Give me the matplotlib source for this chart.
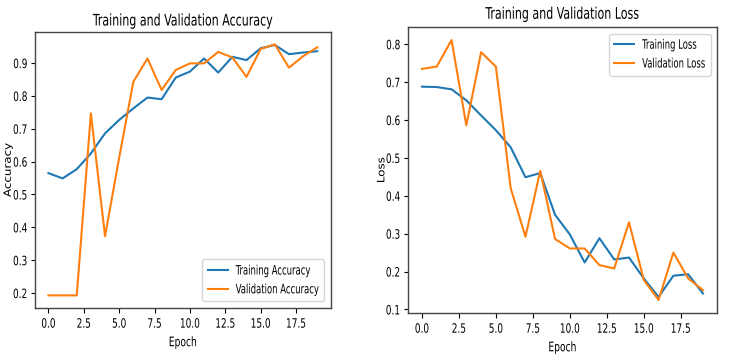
import matplotlib
matplotlib.use("Agg")
import matplotlib.pyplot as plt
from matplotlib.patheffects import AbstractPathEffect
from matplotlib.transforms import Affine2D, Bbox

plt.rcParams['font.family'] = ['DejaVu Sans']
plt.rcParams['font.stretch'] = 'condensed'

epochs = list(range(20))
train_acc = [0.565, 0.549, 0.577, 0.625, 0.686, 0.727, 0.762, 0.795, 0.790, 0.856,
             0.874, 0.914, 0.871, 0.919, 0.909, 0.945, 0.955, 0.927, 0.932, 0.936]
val_acc = [0.193, 0.193, 0.193, 0.747, 0.373, 0.612, 0.843, 0.914, 0.818, 0.879,
           0.899, 0.899, 0.934, 0.917, 0.858, 0.943, 0.957, 0.886, 0.921, 0.948]
train_loss = [0.688, 0.687, 0.681, 0.652, 0.612, 0.573, 0.528, 0.449, 0.460, 0.350,
              0.298, 0.224, 0.288, 0.232, 0.237, 0.182, 0.133, 0.189, 0.193, 0.142]
val_loss = [0.735, 0.741, 0.811, 0.586, 0.779, 0.741, 0.420, 0.292, 0.466, 0.286,
            0.261, 0.261, 0.217, 0.208, 0.330, 0.178, 0.125, 0.250, 0.182, 0.151]
xticks = [0.0, 2.5, 5.0, 7.5, 10.0, 12.5, 15.0, 17.5]
acc_yticks = [0.2, 0.3, 0.4, 0.5, 0.6, 0.7, 0.8, 0.9]
loss_yticks = [0.1, 0.2, 0.3, 0.4, 0.5, 0.6, 0.7, 0.8]

SX = 0.77
SX_LEG = 0.73


class SqueezeX(AbstractPathEffect):
    """Draw text narrower, like the horizontally squeezed reference."""
    def __init__(self, sx=SX, anchor='center'):
        super().__init__()
        self.sx = sx
        self.anchor = anchor

    def draw_path(self, renderer, gc, tpath, affine, rgbFace=None):
        ext = tpath.get_extents(affine)
        if self.anchor == 'left':
            x0 = ext.x0
        elif self.anchor == 'right':
            x0 = ext.x1
        else:
            x0 = 0.5 * (ext.x0 + ext.x1)
        t = affine + Affine2D().translate(-x0, 0).scale(self.sx, 1).translate(x0, 0)
        renderer.draw_path(gc, tpath, t, rgbFace)


def squeeze(txt, anchor='center', sx=SX):
    """Squeeze both the drawn glyphs and the reported extent of a text."""
    txt.set_path_effects([SqueezeX(sx, anchor)])
    orig = txt._get_layout

    def _layout(renderer):
        bbox, info, descent = orig(renderer)
        x0, y0, w, h = bbox.bounds
        if anchor == 'left':
            nx0 = x0
        elif anchor == 'right':
            nx0 = x0 + w * (1 - sx)
        else:
            nx0 = x0 + 0.5 * w * (1 - sx)
        return Bbox.from_bounds(nx0, y0, w * sx, h), info, descent
    txt._get_layout = _layout


fig = plt.figure(figsize=(7.43, 3.61), dpi=100)
ax1 = fig.add_axes([0.0471, 0.147, 0.398, 0.765])
ax2 = fig.add_axes([0.549, 0.133, 0.416, 0.792])

ax1.plot(epochs, train_acc, label='Training Accuracy')
ax1.plot(epochs, val_acc, label='Validation Accuracy')
ax1.set_title('Training and Validation Accuracy', fontsize=11.5, pad=4.5)
ax1.set_xlabel('Epoch', fontsize=9.5)
ax1.set_ylabel('Accuracy', fontsize=9.5)
ax1.yaxis.set_label_coords(-0.069, 0.5)
ax1.set_xticks(xticks)
ax1.set_yticks(acc_yticks)
leg1 = ax1.legend(loc='lower right', fontsize=9.3, handlelength=1.55,
                  handletextpad=0.62, labelspacing=0.45)

ax2.plot(epochs, train_loss, label='Training Loss')
ax2.plot(epochs, val_loss, label='Validation Loss')
ax2.set_title('Training and Validation Loss', fontsize=11.5, pad=6)
ax2.set_xlabel('Epoch', fontsize=9.5)
ax2.set_ylabel('Loss', fontsize=9.5)
ax2.yaxis.set_label_coords(-0.063, 0.5)
ax2.set_xticks(xticks)
ax2.set_yticks(loss_yticks)
leg2 = ax2.legend(loc='upper right', fontsize=9.3, handlelength=1.55,
                  handletextpad=0.62, labelspacing=0.45)

for ax, leg in ((ax1, leg1), (ax2, leg2)):
    ax.xaxis.set_major_formatter(matplotlib.ticker.FormatStrFormatter('%.1f'))
    ax.yaxis.set_major_formatter(matplotlib.ticker.FormatStrFormatter('%.1f'))
    ax.tick_params(axis='x', labelsize=9.3)
    ax.tick_params(axis='y', labelsize=9.3, length=2.7, pad=2.7)
    for spine in ax.spines.values():
        spine.set_edgecolor('#444444')
        spine.set_linewidth(1.0)
    for lab in ax.get_xticklabels():
        squeeze(lab, 'center')
    for lab in ax.get_yticklabels():
        squeeze(lab, 'right')
    squeeze(ax.title, 'center')
    squeeze(ax.xaxis.label, 'center')
    squeeze(ax.yaxis.label, 'center')
    for t in leg.get_texts():
        squeeze(t, 'left', SX_LEG)

fig.savefig('out.png', dpi=100)
